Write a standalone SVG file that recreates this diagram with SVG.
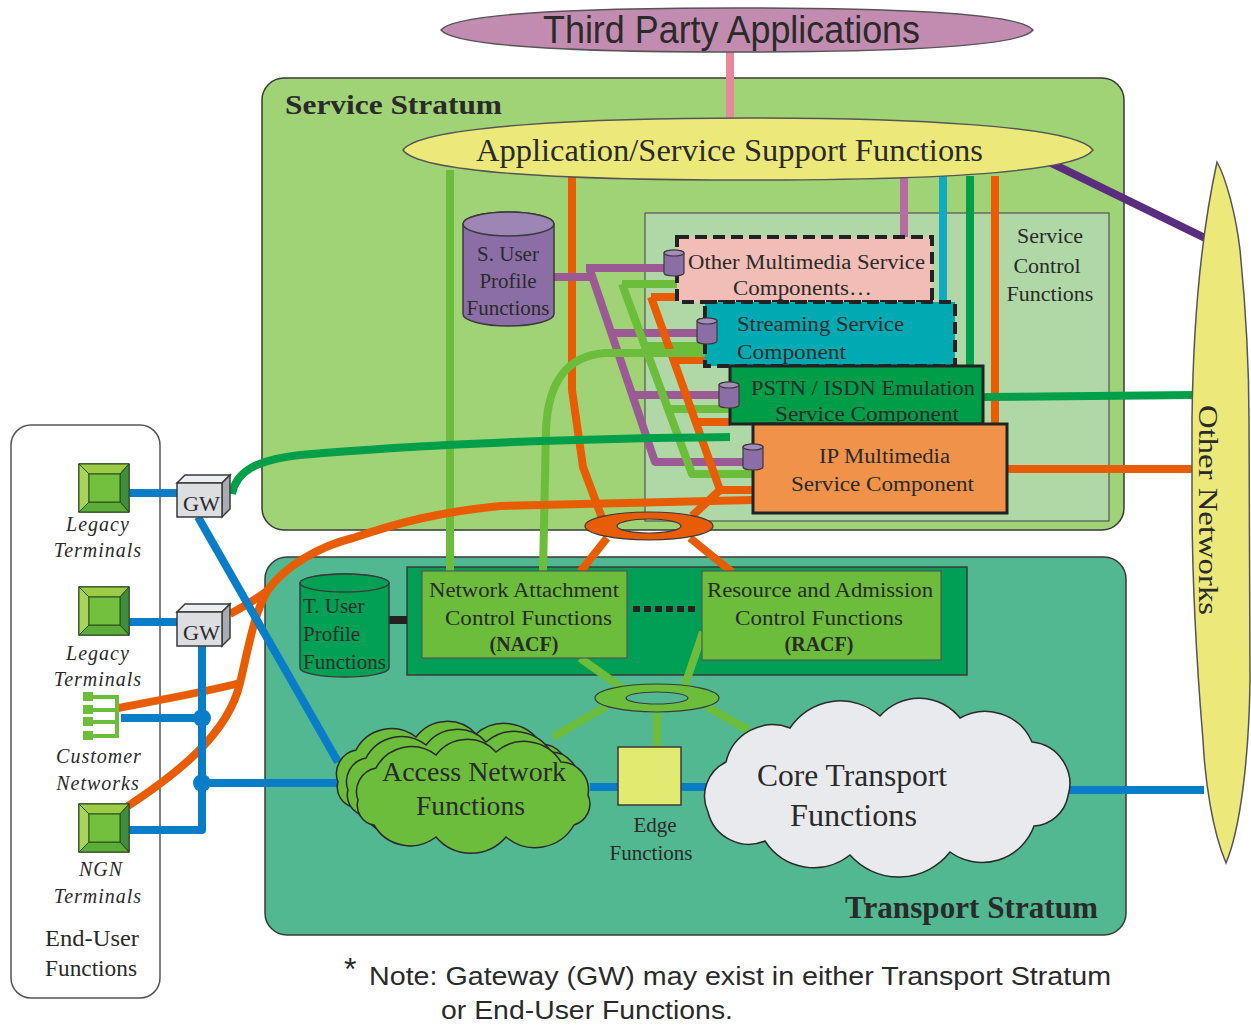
<svg xmlns="http://www.w3.org/2000/svg" xmlns:xlink="http://www.w3.org/1999/xlink" width="1251" height="1025" viewBox="0 0 1251 1025">
  <style>
    .serif { font-family: "Liberation Serif", "Times New Roman", serif; fill: #2a2a2a; }
    .sans { font-family: "Liberation Sans", Arial, sans-serif; fill: #2a2a2a; }
    .it { font-style: italic; }
    .b { font-weight: bold; }
    .edge { stroke: #3a3a3a; stroke-width: 1.5; }
    .thin { stroke: #555; stroke-width: 1.2; }
    .ln { fill: none; stroke-width: 8; stroke-linejoin: round; }
    .orange { stroke: #e85d04; }
    .lgreen { stroke: #6cbd3c; }
    .dgreen { stroke: #00a04a; }
    .purple { stroke: #9b5a94; }
    .blue { stroke: #0a7dc8; }
  </style>
  <defs>
    <!-- small purple data-store cylinder, centred on 0,0 -->
    <g id="minicyl">
      <path d="M-10,-10 L-10,10 A10,3 0 0 0 10,10 L10,-10 A10,3 0 0 0 -10,-10 Z" fill="#8c6ea6" stroke="#3a3a3a" stroke-width="1.2"/>
      <ellipse cx="0" cy="-10" rx="10" ry="3" fill="#a68cbd" stroke="#3a3a3a" stroke-width="1.2"/>
    </g>
    <!-- bevelled terminal icon, 50x48 -->
    <g id="terminal">
      <rect x="0" y="0" width="50" height="48" fill="#6cbd3c" stroke="#2f4a1e" stroke-width="1.5"/>
      <polygon points="0,0 50,0 41,10 10,10" fill="#9ccc46" stroke="#2f4a1e" stroke-width="1"/>
      <polygon points="0,0 10,10 10,38 0,48" fill="#a9d45a" stroke="#2f4a1e" stroke-width="1"/>
      <polygon points="50,0 50,48 41,38 41,10" fill="#3d8f3e" stroke="#2f4a1e" stroke-width="1"/>
      <polygon points="0,48 10,38 41,38 50,48" fill="#5aae38" stroke="#2f4a1e" stroke-width="1"/>
      <rect x="10" y="10" width="31" height="28" fill="#72c03e" stroke="#2f4a1e" stroke-width="1"/>
    </g>
    <!-- 3D gateway box, front face 45x34 -->
    <g id="gwbox">
      <polygon points="0,0 8,-8 53,-8 45,0" fill="#eceef2" stroke="#3a3a3a" stroke-width="1.5"/>
      <polygon points="45,0 53,-8 53,26 45,34" fill="#a9abb0" stroke="#3a3a3a" stroke-width="1.5"/>
      <rect x="0" y="0" width="45" height="34" fill="#dcdee2" stroke="#3a3a3a" stroke-width="1.5"/>
    </g>
    <!-- one lobe of the access-network cloud stack -->
    <path id="acloud" d="M12,60 A24,24 0 0 1 30,28 A40,40 0 0 1 90,15 A39,39 0 0 1 150,12 A43,43 0 0 1 215,22 A28,28 0 0 1 242,55 A22,22 0 0 1 228,85 A45,45 0 0 1 160,97 A46,46 0 0 1 90,97 A42,42 0 0 1 28,85 A20,20 0 0 1 12,60 Z" fill="#6cbd3c" stroke="#2a2a2a" stroke-width="1.5"/>
  </defs>

  <rect x="0" y="0" width="1251" height="1025" fill="#ffffff"/>

  <!-- stratum containers -->
  <g id="service-stratum">
    <rect x="262" y="78" width="862" height="452" rx="22" fill="#a0d276" class="edge"/>
    <text x="285" y="114" class="serif b" font-size="27" textLength="217" lengthAdjust="spacingAndGlyphs">Service Stratum</text>
  </g>
  <g id="transport-stratum">
    <rect x="265" y="557" width="861" height="378" rx="22" fill="#52b891" class="edge"/>
    <text x="845" y="918" class="serif b" font-size="31" textLength="253" lengthAdjust="spacingAndGlyphs">Transport Stratum</text>
  </g>
  <g id="end-user-functions">
    <rect x="11" y="425" width="149" height="573" rx="20" fill="#ffffff" stroke="#555" stroke-width="1.5"/>
    <text x="45" y="946" class="serif" font-size="23" textLength="94" lengthAdjust="spacingAndGlyphs">End-User</text>
    <text x="45" y="976" class="serif" font-size="23" textLength="92" lengthAdjust="spacingAndGlyphs">Functions</text>
  </g>
  <g id="service-control-functions">
    <rect x="645" y="213" width="464" height="308" fill="#b0d8a6" class="thin"/>
    <text x="1050" y="243" class="serif" font-size="22" text-anchor="middle">Service</text>
    <text x="1047" y="273" class="serif" font-size="22" text-anchor="middle">Control</text>
    <text x="1050" y="301" class="serif" font-size="22" text-anchor="middle">Functions</text>
  </g>
  <g id="control-container">
    <rect x="407" y="567" width="560" height="108" fill="#009f55" class="edge"/>
  </g>

  <!-- connectors -->
  <g id="connectors">
    <!-- third party link -->
    <line x1="730" y1="50" x2="730" y2="120" stroke="#e6879b" stroke-width="8"/>
    <!-- application support to other networks -->
    <line x1="1045" y1="160" x2="1205" y2="238" stroke="#5a2d7f" stroke-width="8"/>
    <!-- verticals from application support -->
    <line x1="450" y1="170" x2="450" y2="572" class="ln lgreen"/>
    <path d="M572,172 L572,390 L583,467 L602,518" class="ln orange"/>
    <line x1="904" y1="176" x2="904" y2="238" stroke="#b86aa2" stroke-width="8"/>
    <line x1="943" y1="176" x2="943" y2="303" stroke="#12a9c2" stroke-width="8"/>
    <line x1="970" y1="176" x2="970" y2="367" class="ln dgreen"/>
    <line x1="995" y1="176" x2="995" y2="425" class="ln orange"/>
    <!-- service component buses -->
    <path d="M554,277 L590,277 M586,268 L664,268 M590,270 L655,462 L743,462 M612,333 L697,333 M634,395 L719,395" class="ln purple"/>
    <path d="M622,284 L677,284 M622,284 L692,474 L753,474 M645,346 L705,346 M670,409 L730,409" class="ln lgreen"/>
    <path d="M651,297 L677,297 M651,297 L720,490 L753,490 M674,360 L705,360 M696,422 L730,422 M720,490 L692,516" class="ln orange"/>
    <path d="M705,353 L605,353 C568,356 548,380 546,430 L543,572" class="ln lgreen"/>
    <!-- gateway 1 to PSTN emulation -->
    <path d="M232,494 C236,472 255,460 300,455 C400,446 550,439 730,437" class="ln dgreen"/>
    <!-- PSTN and IMS to other networks -->
    <line x1="983" y1="397" x2="1194" y2="395" class="ln dgreen"/>
    <line x1="1007" y1="469" x2="1194" y2="469" class="ln orange"/>
    <!-- end-user signalling to IMS -->
    <path d="M118,708 C160,700 205,692 240,683" class="ln orange"/>
    <path d="M128,806 C175,775 228,735 240,683 C249,645 255,610 268,590 C285,566 320,546 353,538 C400,522 440,512 500,506 L753,500" class="ln orange"/>
    <path d="M230,614 C245,606 258,598 268,590" class="ln orange"/>
    <!-- orange ring links to NACF / RACF -->
    <line x1="607" y1="538" x2="580" y2="572" class="ln orange"/>
    <line x1="690" y1="538" x2="732" y2="572" class="ln orange"/>
    <!-- blue transport links -->
    <line x1="129" y1="493" x2="177" y2="493" class="ln blue"/>
    <line x1="129" y1="622" x2="177" y2="622" class="ln blue"/>
    <line x1="198" y1="517" x2="338" y2="762" class="ln blue"/>
    <path d="M202,646 L202,830 L129,830" class="ln blue"/>
    <line x1="121" y1="718" x2="202" y2="718" class="ln blue"/>
    <line x1="202" y1="783" x2="345" y2="783" class="ln blue"/>
    <circle cx="202" cy="718" r="9" fill="#0a7dc8"/>
    <circle cx="202" cy="783" r="9" fill="#0a7dc8"/>
    <line x1="590" y1="787" x2="620" y2="787" class="ln blue"/>
    <line x1="680" y1="787" x2="712" y2="787" class="ln blue"/>
    <line x1="1065" y1="790" x2="1204" y2="790" class="ln blue"/>
    <!-- green transport control links -->
    <line x1="580" y1="658" x2="625" y2="690" class="ln lgreen"/>
    <line x1="703" y1="632" x2="684" y2="688" class="ln lgreen"/>
    <line x1="607" y1="706" x2="553" y2="737" class="ln lgreen"/>
    <line x1="657" y1="710" x2="657" y2="748" class="ln lgreen"/>
    <line x1="706" y1="706" x2="748" y2="730" class="ln lgreen"/>
    <!-- profile store to NACF -->
    <line x1="389" y1="620" x2="407" y2="620" stroke="#222" stroke-width="8"/>
    <!-- NACF to RACF -->
    <line x1="633" y1="609" x2="697" y2="609" stroke="#222" stroke-width="6" stroke-dasharray="7,4"/>
  </g>

  <!-- hubs -->
  <g id="service-hub">
    <path d="M585,526 a64,14 0 1,0 128,0 a64,14 0 1,0 -128,0 Z M617,526 a32,7 0 1,0 64,0 a32,7 0 1,0 -64,0 Z" fill="#e85d04" fill-rule="evenodd" stroke="#3a3a3a" stroke-width="1.2"/>
  </g>
  <g id="transport-hub">
    <path d="M595,698 a62,14 0 1,0 124,0 a62,14 0 1,0 -124,0 Z M626,698 a31,6 0 1,0 62,0 a31,6 0 1,0 -62,0 Z" fill="#6cbd3c" fill-rule="evenodd" stroke="#3a3a3a" stroke-width="1.2"/>
  </g>

  <!-- nodes -->
  <g id="third-party-applications">
    <path d="M441,30 C455,12 600,8 737,8 C880,8 1020,12 1033,30 C1020,48 880,52 737,52 C600,52 455,48 441,30 Z" fill="#c28cb0" stroke="#555" stroke-width="1.5"/>
    <text x="543" y="43" class="sans" font-size="38" textLength="377" lengthAdjust="spacingAndGlyphs">Third Party Applications</text>
  </g>
  <g id="application-support">
    <path d="M403,150 C420,125 600,118 748,118 C900,118 1075,125 1093,150 C1075,175 900,180 748,180 C600,180 420,175 403,150 Z" fill="#ece97a" stroke="#555" stroke-width="1.5"/>
    <text x="476" y="161" class="serif" font-size="31" textLength="507" lengthAdjust="spacingAndGlyphs">Application/Service Support Functions</text>
  </g>
  <g id="other-networks">
    <path d="M1217,162 C1226,178 1236,215 1240,250 C1245,300 1249,360 1249,420 L1250,680 C1249,760 1240,830 1226,863 C1212,830 1205,780 1203,740 C1198,680 1192,600 1192,500 L1192,420 C1193,330 1200,240 1217,162 Z" fill="#ece97a" stroke="#555" stroke-width="1.5"/>
    <text transform="translate(1199,405) rotate(90)" x="0" y="0" class="serif" font-size="28" textLength="210" lengthAdjust="spacingAndGlyphs">Other Networks</text>
  </g>
  <g id="s-user-profile">
    <path d="M463,224 L463,314 A45.5,12 0 0 0 554,314 L554,224 A45.5,12 0 0 0 463,224 Z" fill="#8c6ea6" stroke="#3a3a3a" stroke-width="1.5"/>
    <ellipse cx="508.5" cy="224" rx="45.5" ry="12" fill="#9d85b5" stroke="#3a3a3a" stroke-width="1.5"/>
    <text x="508" y="261" class="serif" font-size="21" text-anchor="middle">S. User</text>
    <text x="508" y="288" class="serif" font-size="21" text-anchor="middle">Profile</text>
    <text x="508" y="315" class="serif" font-size="21" text-anchor="middle">Functions</text>
  </g>
  <g id="other-multimedia">
    <rect x="677" y="237" width="255" height="65" fill="#f2bdb6" stroke="#222" stroke-width="4" stroke-dasharray="12,6"/>
    <text x="688" y="269" class="serif" font-size="20" textLength="237" lengthAdjust="spacingAndGlyphs">Other Multimedia Service</text>
    <text x="733" y="295" class="serif" font-size="20" textLength="139" lengthAdjust="spacingAndGlyphs">Components…</text>
  </g>
  <g id="streaming">
    <rect x="705" y="302" width="250" height="64" fill="#00aab3" stroke="#222" stroke-width="4" stroke-dasharray="12,6"/>
    <text x="737" y="331" class="serif" font-size="20" textLength="167" lengthAdjust="spacingAndGlyphs">Streaming Service</text>
    <text x="737" y="359" class="serif" font-size="20" textLength="109" lengthAdjust="spacingAndGlyphs">Component</text>
  </g>
  <g id="pstn-isdn">
    <rect x="730" y="366" width="253" height="58" fill="#009d48" stroke="#222" stroke-width="3"/>
    <text x="751" y="395" class="serif" font-size="20" textLength="224" lengthAdjust="spacingAndGlyphs">PSTN / ISDN Emulation</text>
    <text x="775" y="421" class="serif" font-size="20" textLength="184" lengthAdjust="spacingAndGlyphs">Service Component</text>
  </g>
  <g id="ip-multimedia">
    <rect x="753" y="424" width="254" height="89" fill="#f0924a" stroke="#222" stroke-width="3"/>
    <text x="819" y="463" class="serif" font-size="20" textLength="131" lengthAdjust="spacingAndGlyphs">IP Multimedia</text>
    <text x="791" y="491" class="serif" font-size="20" textLength="183" lengthAdjust="spacingAndGlyphs">Service Component</text>
  </g>
  <g id="profile-taps">
    <use xlink:href="#minicyl" x="674" y="263"/>
    <use xlink:href="#minicyl" x="707" y="331"/>
    <use xlink:href="#minicyl" x="729" y="395"/>
    <use xlink:href="#minicyl" x="753" y="457"/>
  </g>
  <g id="t-user-profile">
    <path d="M300,583 L300,668 A44.5,9 0 0 0 389,668 L389,583 A44.5,9 0 0 0 300,583 Z" fill="#00a055" stroke="#3a3a3a" stroke-width="1.5"/>
    <ellipse cx="344.5" cy="583" rx="44.5" ry="9" fill="#00a055" stroke="#3a3a3a" stroke-width="1.5"/>
    <text x="303" y="613" class="serif" font-size="21">T. User</text>
    <text x="303" y="641" class="serif" font-size="21">Profile</text>
    <text x="303" y="669" class="serif" font-size="21">Functions</text>
  </g>
  <g id="nacf">
    <rect x="422" y="571" width="205" height="87" fill="#6cbd3c" class="thin"/>
    <text x="429" y="597" class="serif" font-size="20" textLength="190" lengthAdjust="spacingAndGlyphs">Network Attachment</text>
    <text x="445" y="625" class="serif" font-size="20" textLength="167" lengthAdjust="spacingAndGlyphs">Control Functions</text>
    <text x="524" y="651" class="serif b" font-size="20" text-anchor="middle">(NACF)</text>
  </g>
  <g id="racf">
    <rect x="702" y="571" width="239" height="89" fill="#6cbd3c" class="thin"/>
    <text x="707" y="597" class="serif" font-size="20" textLength="226" lengthAdjust="spacingAndGlyphs">Resource and Admission</text>
    <text x="735" y="625" class="serif" font-size="20" textLength="168" lengthAdjust="spacingAndGlyphs">Control Functions</text>
    <text x="819" y="651" class="serif b" font-size="20" text-anchor="middle">(RACF)</text>
  </g>
  <g id="access-network">
    <use xlink:href="#acloud" x="326" y="722"/>
    <use xlink:href="#acloud" x="336" y="730"/>
    <use xlink:href="#acloud" x="346" y="740"/>
    <text x="382" y="781" class="serif" font-size="28" textLength="184" lengthAdjust="spacingAndGlyphs">Access Network</text>
    <text x="416" y="815" class="serif" font-size="28" textLength="109" lengthAdjust="spacingAndGlyphs">Functions</text>
  </g>
  <g id="edge-functions">
    <rect x="618" y="747" width="63" height="58" fill="#e3ea70" class="edge"/>
    <text x="655" y="832" class="serif" font-size="21" text-anchor="middle">Edge</text>
    <text x="651" y="860" class="serif" font-size="21" text-anchor="middle">Functions</text>
  </g>
  <g id="core-transport">
    <path d="M708,812 A38,38 0 0 1 726,762 A48,48 0 0 1 790,728 A60,60 0 0 1 880,716 A52,52 0 0 1 960,718 A51,51 0 0 1 1032,742 A42,42 0 0 1 1068,796 A37,37 0 0 1 1034,826 A55,55 0 0 1 950,852 A65,65 0 0 1 850,855 A58,58 0 0 1 765,841 A42,42 0 0 1 708,812 Z" fill="#e9eaee" stroke="#2a2a2a" stroke-width="1.5"/>
    <text x="757" y="786" class="serif" font-size="31" textLength="190" lengthAdjust="spacingAndGlyphs">Core Transport</text>
    <text x="790" y="826" class="serif" font-size="31" textLength="127" lengthAdjust="spacingAndGlyphs">Functions</text>
  </g>
  <g id="legacy-terminals-1">
    <use xlink:href="#terminal" x="79" y="464"/>
    <text x="98" y="531" class="serif it" font-size="20" text-anchor="middle" letter-spacing="1">Legacy</text>
    <text x="98" y="557" class="serif it" font-size="20" text-anchor="middle" letter-spacing="1">Terminals</text>
  </g>
  <g id="legacy-terminals-2">
    <use xlink:href="#terminal" x="79" y="587"/>
    <text x="98" y="660" class="serif it" font-size="20" text-anchor="middle" letter-spacing="1">Legacy</text>
    <text x="98" y="686" class="serif it" font-size="20" text-anchor="middle" letter-spacing="1">Terminals</text>
  </g>
  <g id="customer-networks">
    <path d="M84,697 L117,697 L117,736 L84,736 M84,710 L117,710 M84,722 L117,722" fill="none" stroke="#6cbd3c" stroke-width="4"/>
    <rect x="83" y="692" width="10" height="9" fill="#6cbd3c"/>
    <rect x="83" y="705" width="10" height="9" fill="#6cbd3c"/>
    <rect x="83" y="717" width="10" height="9" fill="#6cbd3c"/>
    <rect x="83" y="731" width="10" height="9" fill="#6cbd3c"/>
    <text x="99" y="763" class="serif it" font-size="20" text-anchor="middle" letter-spacing="1">Customer</text>
    <text x="98" y="790" class="serif it" font-size="20" text-anchor="middle" letter-spacing="1">Networks</text>
  </g>
  <g id="ngn-terminals">
    <use xlink:href="#terminal" x="79" y="804"/>
    <text x="101" y="876" class="serif it" font-size="20" text-anchor="middle" letter-spacing="1">NGN</text>
    <text x="98" y="903" class="serif it" font-size="20" text-anchor="middle" letter-spacing="1">Terminals</text>
  </g>
  <g id="gw-1">
    <use xlink:href="#gwbox" x="177" y="483"/>
    <text x="183" y="511" class="serif" font-size="22" textLength="37" lengthAdjust="spacingAndGlyphs">GW</text>
  </g>
  <g id="gw-2">
    <use xlink:href="#gwbox" x="177" y="612"/>
    <text x="183" y="640" class="serif" font-size="22" textLength="37" lengthAdjust="spacingAndGlyphs">GW</text>
  </g>

  <g id="note">
    <text x="344" y="980" class="sans" font-size="32">*</text>
    <text x="369" y="985" class="sans" font-size="26" textLength="742" lengthAdjust="spacingAndGlyphs">Note: Gateway (GW) may exist in either Transport Stratum</text>
    <text x="441" y="1019" class="sans" font-size="25" textLength="292" lengthAdjust="spacingAndGlyphs">or End-User Functions.</text>
  </g>
</svg>
